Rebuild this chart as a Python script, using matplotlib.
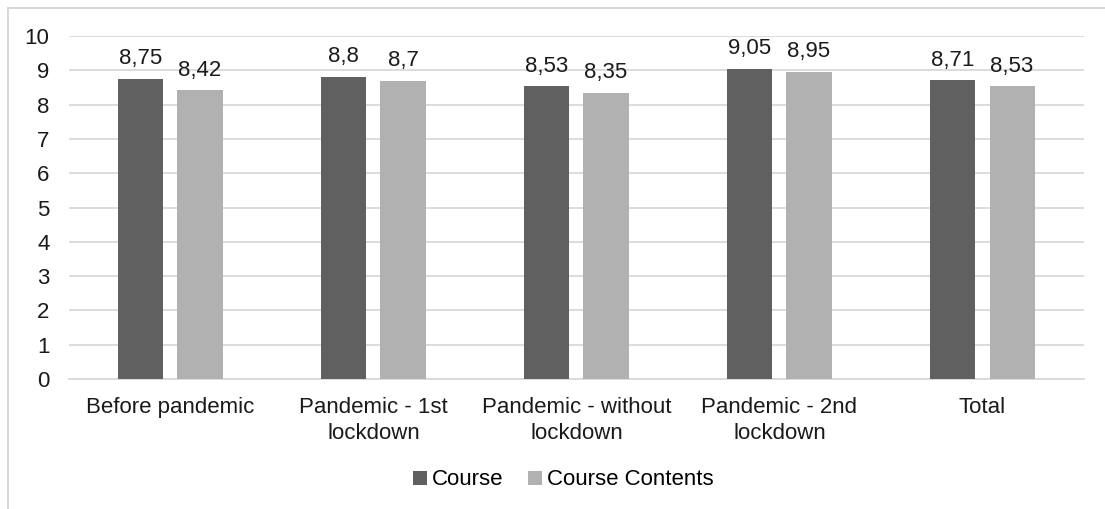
import numpy as np
import matplotlib.pyplot as plt
from matplotlib.lines import Line2D

plt.rcParams['font.family'] = ['Liberation Sans', 'DejaVu Sans']

# ── Data ────────────────────────────────────────────────────────────────
categories = ['Before pandemic', 'Pandemic - 1st\nlockdown', 'Pandemic - without\nlockdown',
              'Pandemic - 2nd\nlockdown', 'Total']
course = [8.75, 8.8, 8.53, 9.05, 8.71]
course_contents = [8.42, 8.7, 8.35, 8.95, 8.53]
series_names = ['Course', 'Course Contents']

dark = '#606060'
light = '#b1b1b1'
grid_col = '#d9d9d9'
txt = '#1a1a1a'
fs = 16


def fmt(v):
    return f'{v:g}'.replace('.', ',')


fig = plt.figure(figsize=(11.05, 5.09), dpi=100)
ax = fig.add_axes([0.0624, 0.2554, 0.9186, 0.6738])

x = np.arange(len(categories))
w = 0.222
gap = 0.069
off = (w + gap) / 2

b1 = ax.bar(x - off, course, w, color=dark, label=series_names[0], zorder=3)
b2 = ax.bar(x + off, course_contents, w, color=light, label=series_names[1], zorder=3)

for bars, vals in ((b1, course), (b2, course_contents)):
    for rect, v in zip(bars, vals):
        ax.annotate(fmt(v), (rect.get_x() + rect.get_width() / 2, v),
                    xytext=(0, 7), textcoords='offset points',
                    ha='center', va='bottom', fontsize=fs, color=txt)

ax.set_xlim(-0.5, len(categories) - 0.5)
ax.set_ylim(0, 10)
ax.set_yticks(range(0, 11))
ax.yaxis.grid(True, color=grid_col, linewidth=1.3, zorder=0)
ax.set_axisbelow(True)
for s in ['top', 'right', 'left']:
    ax.spines[s].set_visible(False)
ax.spines['bottom'].set_color(grid_col)
ax.spines['bottom'].set_linewidth(1.3)
ax.tick_params(axis='both', length=0, labelsize=fs, colors=txt)
ax.tick_params(axis='y', pad=14)
ax.tick_params(axis='x', pad=13)
ax.set_xticks(x)
ax.set_xticklabels(categories, linespacing=1.3)

leg = fig.legend(handles=[b1, b2], loc='center', bbox_to_anchor=(0.51, 0.057), ncol=2,
                 frameon=False, fontsize=fs, handlelength=0.6, handleheight=0.6,
                 handletextpad=0.25, columnspacing=1.1)

# outer chart border (only top and left visible in the crop)
fig.add_artist(Line2D([8 / 1105, 1.0], [1 - 8 / 509, 1 - 8 / 509], color=grid_col,
                      linewidth=1.5, transform=fig.transFigure))
fig.add_artist(Line2D([8 / 1105, 8 / 1105], [0, 1 - 8 / 509], color=grid_col,
                      linewidth=1.5, transform=fig.transFigure))

fig.savefig('out.png', dpi=100)
